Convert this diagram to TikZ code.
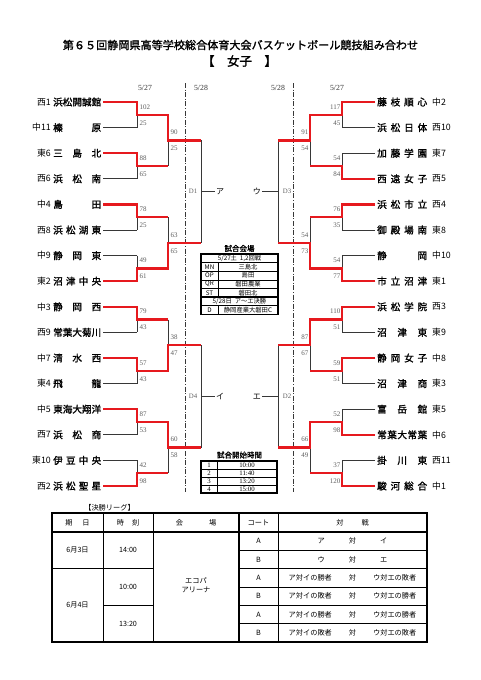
\documentclass[tikz,border=0pt]{standalone}
\usepackage{fontspec}
\setmainfont{Noto Sans CJK JP}[AutoFakeBold=1.5]
\newfontfamily\serifnum{Liberation Serif}
\definecolor{wred}{RGB}{230,25,30}
\definecolor{lgray}{RGB}{55,55,55}
\definecolor{sgray}{RGB}{95,95,95}
\def\distA#1#2{#1\ifx\relax#2\else\hfill\expandafter\distA\expandafter#2\fi}
\newcommand\distL[1]{\makebox[48pt][s]{\expandafter\distA#1\relax}}
\newcommand\distR[1]{\makebox[50pt][s]{\expandafter\distA#1\relax}}
\begin{document}
\begin{tikzpicture}[x=1pt,y=-1pt,
  blk/.style={draw=lgray,line width=0.8pt},
  rd/.style={draw=wred,line width=2.4pt,line join=miter},
  score/.style={font=\serifnum\fontsize{7}{7}\selectfont,text=sgray,inner sep=0pt},
  team/.style={font=\bfseries\fontsize{9.6}{10}\selectfont,inner sep=0pt},
  pre/.style={font=\fontsize{8.8}{9}\selectfont,inner sep=0pt},
  dlab/.style={font=\serifnum\fontsize{7.8}{7.8}\selectfont,text=lgray,inner sep=0pt},
  glab/.style={font=\serifnum\fontsize{6.8}{6.8}\selectfont,text=sgray,inner sep=0pt},
  klab/.style={font=\fontsize{8}{8}\selectfont,inner sep=1pt},
  dashln/.style={draw=lgray,line width=0.9pt,dash pattern=on 5pt off 1.6pt on 1pt off 1.6pt},
  tbo/.style={draw=black,line width=1.4pt},
  tbi/.style={draw=black,line width=0.7pt},
  ttx/.style={font=\fontsize{6.3}{6.3}\selectfont,inner sep=0pt},
  tnum/.style={font=\serifnum\fontsize{6.8}{6.8}\selectfont,inner sep=0pt},
  btx/.style={font=\fontsize{7.2}{8.8}\selectfont,inner sep=0pt,align=center},
]
\useasboundingbox (0,0) rectangle (481,680);
\fill[white] (0,0) rectangle (481,680);

% titles
\node[font=\bfseries\fontsize{11.1}{12}\selectfont,inner sep=0pt] (title) at (240.5,45) {第６５回静岡県高等学校総合体育大会バスケットボール競技組み合わせ};
\node[font=\bfseries\fontsize{12.5}{13}\selectfont,inner sep=0pt] (sub) at (239.5,61) {【　女子　】};

% dates
\node[dlab] (d1) at (145,88) {5/27};
\node[dlab] (d2) at (201,88) {5/28};
\node[dlab] (d3) at (278,88) {5/28};
\node[dlab] (d4) at (337,88) {5/27};

% left teams
\foreach \ii/\pp/\nn in {0/西1/浜松開誠館,1/中11/榛原,2/東6/三島北,3/西6/浜松南,4/中4/島田,5/西8/浜松湖東,6/中9/静岡東,7/東2/沼津中央,8/中3/静岡西,9/西9/常葉大菊川,10/中7/清水西,11/東4/飛龍,12/中5/東海大翔洋,13/西7/浜松商,14/東10/伊豆中央,15/西2/浜松聖星}{
  \pgfmathsetmacro\yy{102+25.6*\ii}
  \node[pre,anchor=east] (Lp\ii) at (51,\yy) {\pp};
  \node[team,anchor=west] (Ln\ii) at (53,\yy) {\distL{\nn}};
  \coordinate (La\ii) at (137,\yy);
  \draw[blk] ([xshift=2pt]Ln\ii.east) -- (La\ii);
}
% right teams
\foreach \ii/\pp/\nn in {0/中2/藤枝順心,1/西10/浜松日体,2/東7/加藤学園,3/西5/西遠女子,4/西4/浜松市立,5/東8/御殿場南,6/中10/静岡,7/東1/市立沼津,8/西3/浜松学院,9/東9/沼津東,10/中8/静岡女子,11/東3/沼津商,12/東5/富岳館,13/中6/常葉大常葉,14/西11/掛川東,15/中1/駿河総合}{
  \pgfmathsetmacro\yy{102+25.6*\ii}
  \node[pre,anchor=west] (Rp\ii) at (432,\yy) {\pp};
  \node[team,anchor=west] (Rn\ii) at (377,\yy) {\distR{\nn}};
  \coordinate (Ra\ii) at (342,\yy);
  \draw[blk] ([xshift=-2pt]Rn\ii.west) -- (Ra\ii);
}
% round 1
\foreach \jj in {0,...,7}{
  \pgfmathsetmacro\ym{114.8+51.2*\jj}
  \pgfmathtruncatemacro\ia{2*\jj}\pgfmathtruncatemacro\ib{2*\jj+1}
  \coordinate (Lb\jj) at (137,\ym); \coordinate (Lc\jj) at (168,\ym);
  \coordinate (Rb\jj) at (342,\ym); \coordinate (Rc\jj) at (310,\ym);
  \draw[blk] (La\ia) -- (La\ib);
  \draw[blk] (Ra\ia) -- (Ra\ib);
}
% round 2
\foreach \kk in {0,...,3}{
  \pgfmathsetmacro\ym{140.4+102.4*\kk}
  \pgfmathtruncatemacro\ia{2*\kk}\pgfmathtruncatemacro\ib{2*\kk+1}
  \coordinate (Ld\kk) at (168,\ym); \coordinate (Le\kk) at (201,\ym);
  \coordinate (Rd\kk) at (310,\ym); \coordinate (Re\kk) at (278,\ym);
  \draw[blk] (Lc\ia) -- (Lc\ib);
  \draw[blk] (Rc\ia) -- (Rc\ib);
}
% round 3
\foreach \mm/\dl/\dr/\kl/\kr in {0/D1/D3/ア/ウ,1/D4/D2/イ/エ}{
  \pgfmathsetmacro\ym{191.6+204.8*\mm}
  \pgfmathtruncatemacro\ia{2*\mm}\pgfmathtruncatemacro\ib{2*\mm+1}
  \coordinate (Lf\mm) at (201,\ym); \coordinate (Rf\mm) at (278,\ym);
  \draw[blk] (Le\ia) -- (Le\ib);
  \draw[blk] (Re\ia) -- (Re\ib);
  \node[glab] (DL\mm) at (193,\ym) {\dl};
  \node[glab] (DR\mm) at (287,\ym) {\dr};
  \node[klab,anchor=west] (KL\mm) at (215,\ym) {\kl};
  \node[klab,anchor=east] (KR\mm) at (262,\ym) {\kr};
  \draw[blk] (Lf\mm) -- (KL\mm.west);
  \draw[blk] (Rf\mm) -- (KR\mm.east);
}
% dashed day separators
\draw[dashln] (185,83) -- (185,492);
\draw[dashln] (293,83) -- (293,492);

% winners (red)
\foreach \tt/\jj/\kk in {0/0/0,7/3/1,10/5/2,12/6/3}
  \draw[rd] ([xshift=2pt]Ln\tt.east) -- (La\tt) -- (Lb\jj) -- (Lc\jj) -- (Ld\kk) -- (Le\kk);
\foreach \tt/\jj in {2/1,4/2,8/4,15/7}
  \draw[rd] ([xshift=2pt]Ln\tt.east) -- (La\tt) -- (Lb\jj) -- (Lc\jj);
\foreach \tt/\jj/\kk in {0/0/0,7/3/1,8/4/2,13/6/3}
  \draw[rd] ([xshift=-2pt]Rn\tt.west) -- (Ra\tt) -- (Rb\jj) -- (Rc\jj) -- (Rd\kk) -- (Re\kk);
\foreach \tt/\jj in {3/1,4/2,10/5,15/7}
  \draw[rd] ([xshift=-2pt]Rn\tt.west) -- (Ra\tt) -- (Rb\jj) -- (Rc\jj);

% scores
\foreach \jj/\sa/\sb in {0/102/25,1/88/65,2/78/25,3/49/61,4/79/43,5/57/43,6/87/53,7/42/98}{
  \pgfmathsetmacro\ym{114.8+51.2*\jj}
  \node[score,anchor=west] (LsA\jj) at (139.5,\ym-8) {\sa};
  \node[score,anchor=west] (LsB\jj) at (139.5,\ym+8) {\sb};
}
\foreach \kk/\sa/\sb in {0/90/25,1/63/65,2/38/47,3/60/58}{
  \pgfmathsetmacro\ym{140.4+102.4*\kk}
  \node[score,anchor=west] (LtA\kk) at (170.5,\ym-8) {\sa};
  \node[score,anchor=west] (LtB\kk) at (170.5,\ym+8) {\sb};
}
\foreach \jj/\sa/\sb in {0/117/45,1/54/84,2/76/35,3/54/77,4/110/51,5/59/51,6/52/98,7/37/120}{
  \pgfmathsetmacro\ym{114.8+51.2*\jj}
  \node[score,anchor=east] (RsA\jj) at (340.5,\ym-8) {\sa};
  \node[score,anchor=east] (RsB\jj) at (340.5,\ym+8) {\sb};
}
\foreach \kk/\sa/\sb in {0/91/54,1/54/73,2/87/67,3/66/49}{
  \pgfmathsetmacro\ym{140.4+102.4*\kk}
  \node[score,anchor=east] (RtA\kk) at (308.5,\ym-8) {\sa};
  \node[score,anchor=east] (RtB\kk) at (308.5,\ym+8) {\sb};
}

% venue table
\node[font=\bfseries\fontsize{7.5}{7.5}\selectfont,inner sep=0pt] (vt) at (239.5,248.5) {試合会場};
\draw[tbo] (201,254) rectangle (278,314.2);
\foreach \yy/\ww in {262.6/1.1,271.2/0.6,279.8/0.6,288.4/0.6,297/1.1,305.6/1.1}
  \draw[draw=black,line width=\ww pt] (201,\yy) -- (278,\yy);
\draw[tbi] (218,262.6) -- (218,297);
\draw[tbi] (218,305.6) -- (218,314.2);
\node[ttx] (v0) at (239.5,258.3) {5/27土\ \ 1,2回戦};
\foreach \rr/\sa/\sb in {1/MN/三島北,2/OP/島田,3/QR/磐田農業,4/ST/磐田北}{
  \pgfmathsetmacro\yy{258.3+8.6*\rr}
  \node[ttx] (va\rr) at (209.5,\yy) {\sa};
  \node[ttx] (vb\rr) at (248,\yy) {\sb};
}
\node[ttx] (v5) at (239.5,301.3) {5/28日\ \ ア～エ決勝};
\node[ttx] (va6) at (209.5,309.9) {D};
\node[ttx] (vb6) at (248,309.9) {静岡産業大磐田C};

% time table
\node[font=\bfseries\fontsize{7.5}{7.5}\selectfont,inner sep=0pt] (tt) at (239.5,455) {試合開始時間};
\draw[tbo] (201,461) rectangle (277,493);
\foreach \yy in {469,477,485} \draw[tbi] (201,\yy) -- (277,\yy);
\draw[tbi] (217,461) -- (217,493);
\foreach \rr/\tm in {1/10:00,2/11:40,3/13:20,4/15:00}{
  \pgfmathsetmacro\yy{457+8*\rr}
  \node[tnum] (tn\rr) at (209,\yy) {\rr};
  \node[tnum] (tm\rr) at (247,\yy) {\tm};
}

% final league table
\node[font=\fontsize{7.2}{7.2}\selectfont,inner sep=0pt] (kt) at (109.5,508) {【決勝リーグ】};
\draw[tbo] (52,513) rectangle (427,642);
\foreach \xx in {103,153,278} \draw[draw=black,line width=1pt] (\xx,513) -- (\xx,642);
\draw[draw=black,line width=1.3pt] (239,513) -- (239,642);
\draw[draw=black,line width=1.3pt] (52,532) -- (427,532);
\draw[tbi] (52,568.67) -- (153,568.67);
\draw[tbi] (103,605.33) -- (153,605.33);
\foreach \yy in {550.33,568.67,587,605.33,623.67} \draw[tbi] (239,\yy) -- (427,\yy);
\node[btx] (h1) at (77.5,522.5) {期\hspace{10pt}日};
\node[btx] (h2) at (128,522.5) {時\hspace{8pt}刻};
\node[btx] (h3) at (196,522.5) {会\hspace{26pt}場};
\node[btx] (h4) at (258.5,522.5) {コート};
\node[btx] (h5) at (352.5,522.5) {対\hspace{18pt}戦};
\node[btx] (dt1) at (77.5,550.33) {6月3日};
\node[btx] (dt2) at (77.5,605.33) {6月4日};
\node[btx] (tt1) at (128,550.33) {14:00};
\node[btx] (tt2) at (128,587) {10:00};
\node[btx] (tt3) at (128,623.67) {13:20};
\node[btx] (ven) at (196,585.5) {エコパ\\アリーナ};
\foreach \rr/\cc/\mt in {1/A/{ア\hspace{24pt}対\hspace{24pt}イ},2/B/{ウ\hspace{24pt}対\hspace{24pt}エ},3/A/{ア対イの勝者\hspace{17pt}対\hspace{17pt}ウ対エの敗者},4/B/{ア対イの敗者\hspace{17pt}対\hspace{17pt}ウ対エの勝者},5/A/{ア対イの勝者\hspace{17pt}対\hspace{17pt}ウ対エの勝者},6/B/{ア対イの敗者\hspace{17pt}対\hspace{17pt}ウ対エの敗者}}{
  \pgfmathsetmacro\yy{532+18.333*\rr-9.167}
  \node[btx] (ct\rr) at (258.5,\yy) {\cc};
  \node[btx] (mt\rr) at (352.5,\yy) {\mt};
}
\end{tikzpicture}
\end{document}
